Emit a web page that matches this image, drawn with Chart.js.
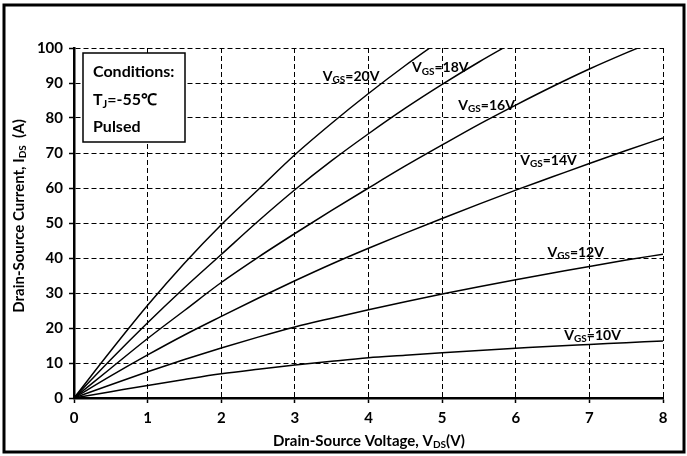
<!DOCTYPE html>
<html>
<head>
<meta charset="utf-8">
<script src="https://cdn.jsdelivr.net/npm/chart.js@4.4.1/dist/chart.umd.min.js"></script>
<style>
  html, body { margin: 0; padding: 0; background: #fff; }
  #wrap { width: 687px; height: 456px; }
</style>
</head>
<body>
<div id="wrap"><canvas id="myChart"></canvas></div>
<script>
// drain-source voltage (V)
const vds = [0, 0.5, 1, 1.5, 2, 2.5, 3, 3.5, 4, 4.5, 5, 5.5, 6, 6.5, 7, 7.5, 8];
// drain current (A) per gate voltage
const ids20 = [0, 13.5, 26.5, 38.5, 49.5, 59.5, 69.5, 78.5, 87, 95, 102.5];
const ids18 = [0, 11, 21.5, 31.5, 41, 50.5, 59.5, 67.8, 75.5, 82.8, 89.6, 96, 102];
const ids16 = [0, 8.5, 17, 25, 33, 40.2, 47, 53.6, 60, 66.3, 72.3, 78.2, 83.7, 89, 94, 98.6, 103];
const ids14 = [0, 6.3, 12.3, 18, 23.3, 28.5, 33.5, 38.3, 42.8, 47.1, 51.3, 55.4, 59.4, 63.2, 67, 70.7, 74.3];
const ids12 = [0, 3.8, 7.5, 11, 14.3, 17.4, 20.3, 22.8, 25.2, 27.5, 29.7, 31.8, 33.8, 35.7, 37.6, 39.4, 41.1];
const ids10 = [0, 1.8, 3.6, 5.3, 6.9, 8.2, 9.4, 10.5, 11.5, 12.2, 12.9, 13.6, 14.2, 14.8, 15.3, 15.8, 16.3];
const vgsNames = ['20V', '18V', '16V', '14V', '12V', '10V'];
const seriesValues = [ids20, ids18, ids16, ids14, ids12, ids10];

const FONT = 'Lato, "Open Sans", sans-serif';

function drawRich(ctx, parts, x, y, size) {
  let cx = x;
  parts.forEach(([t, sub]) => {
    const s = sub ? Math.round(size * 0.68) : size;
    ctx.font = 'bold ' + s + 'px ' + FONT;
    ctx.fillText(t, cx, sub ? y + size * 0.28 : y);
    cx += ctx.measureText(t).width;
  });
  return cx - x;
}
function richWidth(ctx, parts, size) {
  let w = 0;
  parts.forEach(([t, sub]) => {
    const s = sub ? Math.round(size * 0.68) : size;
    ctx.font = 'bold ' + s + 'px ' + FONT;
    w += ctx.measureText(t).width;
  });
  return w;
}

// curve labels, anchored at left/middle in data coordinates
const labelSpots = {
  '20V': [3.38, 92], '18V': [4.59, 94.3], '16V': [5.22, 83.7],
  '14V': [6.06, 68], '12V': [6.43, 41.7], '10V': [6.66, 18]
};

const annotations = {
  id: 'annotations',
  afterDraw(chart) {
    const ctx = chart.ctx;
    const xs = chart.scales.x, ys = chart.scales.y;
    ctx.save();
    ctx.fillStyle = '#000';
    ctx.textBaseline = 'middle';
    ctx.textAlign = 'left';

    vgsNames.forEach(n => {
      const [lx, ly] = labelSpots[n];
      drawRich(ctx, [['V', false], ['GS', true], ['=' + n, false]],
        xs.getPixelForValue(lx), ys.getPixelForValue(ly), 14);
    });

    // conditions box
    ctx.fillStyle = '#fff';
    ctx.fillRect(83, 53, 102, 89);
    ctx.strokeStyle = '#000';
    ctx.lineWidth = 1.5;
    ctx.strokeRect(83, 53, 102, 89);
    ctx.fillStyle = '#000';
    drawRich(ctx, [['Conditions:', false]], 93, 72, 16);
    drawRich(ctx, [['T', false], ['J', true], ['=-55℃', false]], 93, 100, 16);
    drawRich(ctx, [['Pulsed', false]], 93, 127, 16);

    // x title
    const xt = [['Drain-Source Voltage, V', false], ['DS', true], ['(V)', false]];
    const xw = richWidth(ctx, xt, 15);
    drawRich(ctx, xt, 369 - xw / 2, 441, 15);

    // y title
    const yt = [['Drain-Source Current, I', false], ['DS', true], ['  (A)', false]];
    const yw = richWidth(ctx, yt, 15);
    ctx.translate(19, 216);
    ctx.rotate(-Math.PI / 2);
    drawRich(ctx, yt, -yw / 2, 0, 15);
    ctx.restore();

    // outer frame
    ctx.save();
    ctx.strokeStyle = '#000';
    ctx.lineWidth = 3;
    ctx.strokeRect(4, 5, 680, 447);
    ctx.restore();
  }
};

new Chart('myChart', {
  type: 'line',
  data: {
    datasets: vgsNames.map((n, k) => ({
      label: 'VGS=' + n,
      data: seriesValues[k].map((v, i) => ({ x: vds[i], y: v })),
      borderColor: '#000',
      borderWidth: 1.5,
      pointRadius: 0,
      cubicInterpolationMode: 'monotone',
      fill: false
    }))
  },
  options: {
    responsive: true,
    maintainAspectRatio: false,
    animation: false,
    layout: { padding: { left: 0, right: 24, top: 48, bottom: 0 } },
    plugins: { legend: { display: false }, tooltip: { enabled: false } },
    scales: {
      x: {
        type: 'linear',
        min: 0, max: 8,
        afterFit(s) { s.height = 58; },
        ticks: { stepSize: 1, color: '#000', padding: 6, font: { family: FONT, size: 15, weight: 'bold' } },
        grid: { color: '#000', lineWidth: 1, tickLength: 5, tickColor: '#000', tickWidth: 1.5 },
        border: { display: true, color: '#000', width: 2.5, dash: [5, 3] }
      },
      y: {
        type: 'linear',
        min: 0, max: 100,
        afterFit(s) { s.width = 74; },
        ticks: { stepSize: 10, color: '#000', padding: 6, font: { family: FONT, size: 15, weight: 'bold' } },
        grid: { color: '#000', lineWidth: 1, tickLength: 5, tickColor: '#000', tickWidth: 1.5 },
        border: { display: true, color: '#000', width: 2.5, dash: [5, 3] }
      }
    }
  },
  plugins: [annotations]
});
</script>
</body>
</html>
